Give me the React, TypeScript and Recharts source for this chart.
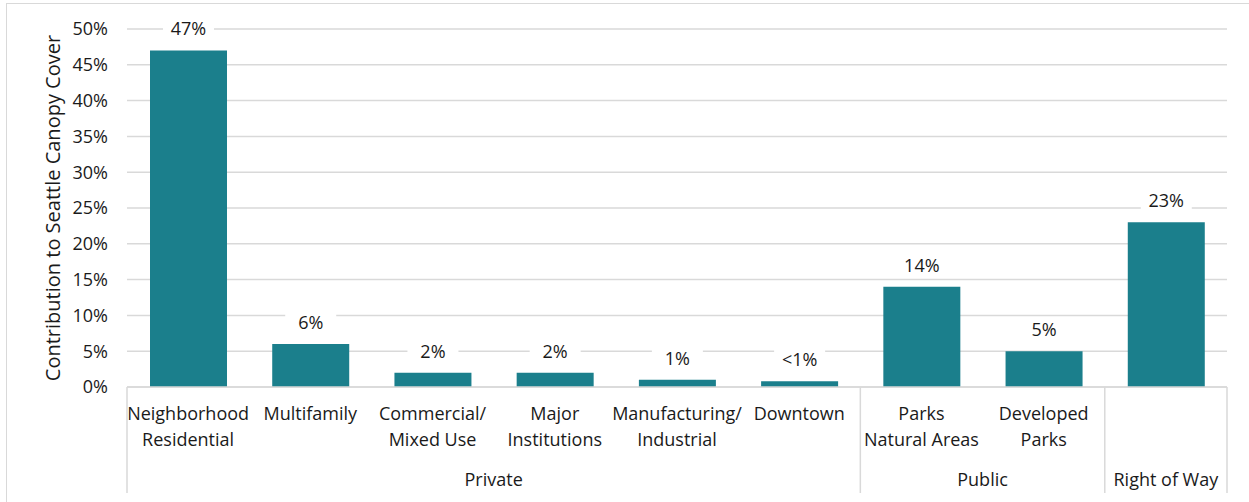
import { BarChart, Bar, XAxis, YAxis, CartesianGrid, LabelList } from "recharts";

// Seattle canopy cover contribution by land use
const categories = [
  "Neighborhood\nResidential",
  "Multifamily",
  "Commercial/\nMixed Use",
  "Major\nInstitutions",
  "Manufacturing/\nIndustrial",
  "Downtown",
  "Parks\nNatural Areas",
  "Developed\nParks",
  "",
];
const groups = [
  "Private", "Private", "Private", "Private", "Private", "Private",
  "Public", "Public",
  "Right of Way",
];
const values = [47, 6, 2, 2, 1, 0.8, 14, 5, 23];
const valueLabels = ["47%", "6%", "2%", "2%", "1%", "<1%", "14%", "5%", "23%"];
const yTicks = [0, 5, 10, 15, 20, 25, 30, 35, 40, 45, 50];

const data = categories.map((c, i) => ({
  name: c,
  group: groups[i],
  value: values[i],
  label: valueLabels[i],
}));

const W = 1249;
const H = 502;
const MARGIN = { top: 29, right: 22, bottom: 5, left: 67 };
const Y_W = 60;
const PLOT_W = W - MARGIN.left - MARGIN.right - Y_W;
const STEP = PLOT_W / categories.length;

const FONT = "'Open Sans', sans-serif";
const TEXT = "#1a1a1a";
const GRID = "#d9d9d9";
const BAR = "#1b7f8c";

function CategoryTick(props: any) {
  const { x, y, payload, index } = props;
  const lines = String(payload.value).split("\n").filter((s) => s);
  const g = groups[index];
  const first = index === 0 || groups[index - 1] !== g;
  const last = index === groups.length - 1;
  let groupEl = null;
  if (first) {
    const size = groups.filter((v) => v === g).length;
    const gx = x - STEP / 2 + (size * STEP) / 2;
    groupEl = (
      <text x={gx} y={y + 92} textAnchor="middle" dominantBaseline="central" fontSize={18} fontFamily={FONT} fill={TEXT}>
        {g}
      </text>
    );
  }
  return (
    <g>
      {first && <line x1={x - STEP / 2} x2={x - STEP / 2} y1={y} y2={y + 106} stroke={GRID} strokeWidth={1.5} />}
      {last && <line x1={x + STEP / 2} x2={x + STEP / 2} y1={y} y2={y + 106} stroke={GRID} strokeWidth={1.5} />}
      {lines.map((l, i) => (
        <text key={i} x={x} y={y + 26 + i * 26} textAnchor="middle" dominantBaseline="central" fontSize={18} fontFamily={FONT} fill={TEXT}>
          {l}
        </text>
      ))}
      {groupEl}
    </g>
  );
}

function ValueLabel(props: any) {
  const { x, y, width, index } = props;
  const cx = x + width / 2;
  const ty = y - 22;
  return (
    <g>
      <rect x={cx - 25.5} y={ty - 11} width={51} height={22} fill="#fff" />
      <text x={cx} y={ty} textAnchor="middle" dominantBaseline="central" fontSize={18} fontFamily={FONT} fill={TEXT}>
        {valueLabels[index]}
      </text>
    </g>
  );
}

export default function App() {
  return (
    <div style={{ position: "absolute", left: 0, top: 0, width: W, height: H, background: "#fff" }}>
      <div
        style={{
          position: "absolute",
          left: 6,
          top: 3,
          right: 0,
          bottom: 0,
          borderTop: `1.5px solid ${GRID}`,
          borderLeft: `1.5px solid ${GRID}`,
        }}
      />
      <div style={{ position: "absolute", left: 0, top: 0 }}>
        <BarChart width={W} height={H} data={data} margin={MARGIN}>
          <CartesianGrid vertical={false} stroke={GRID} strokeWidth={1.5} />
          <XAxis
            dataKey="name"
            interval={0}
            height={110}
            tickLine={false}
            tickSize={0}
            tickMargin={0}
            axisLine={{ stroke: GRID, strokeWidth: 1.5 }}
            tick={<CategoryTick />}
          />
          <YAxis
            width={Y_W}
            domain={[0, 50]}
            ticks={yTicks}
            interval={0}
            axisLine={false}
            tickLine={false}
            tickSize={0}
            tickMargin={19}
            tickFormatter={(v: number) => `${v}%`}
            tick={{ fontSize: 18, fontFamily: FONT, fill: TEXT }}
            label={{
              value: "Contribution to Seattle Canopy Cover",
              angle: -90,
              position: "insideLeft",
              dx: -19,
              style: { textAnchor: "middle", fontSize: 20, fontFamily: FONT, fill: TEXT },
            }}
          />
          <Bar dataKey="value" fill={BAR} barSize={77} isAnimationActive={false}>
            <LabelList dataKey="label" content={<ValueLabel />} />
          </Bar>
        </BarChart>
      </div>
    </div>
  );
}
